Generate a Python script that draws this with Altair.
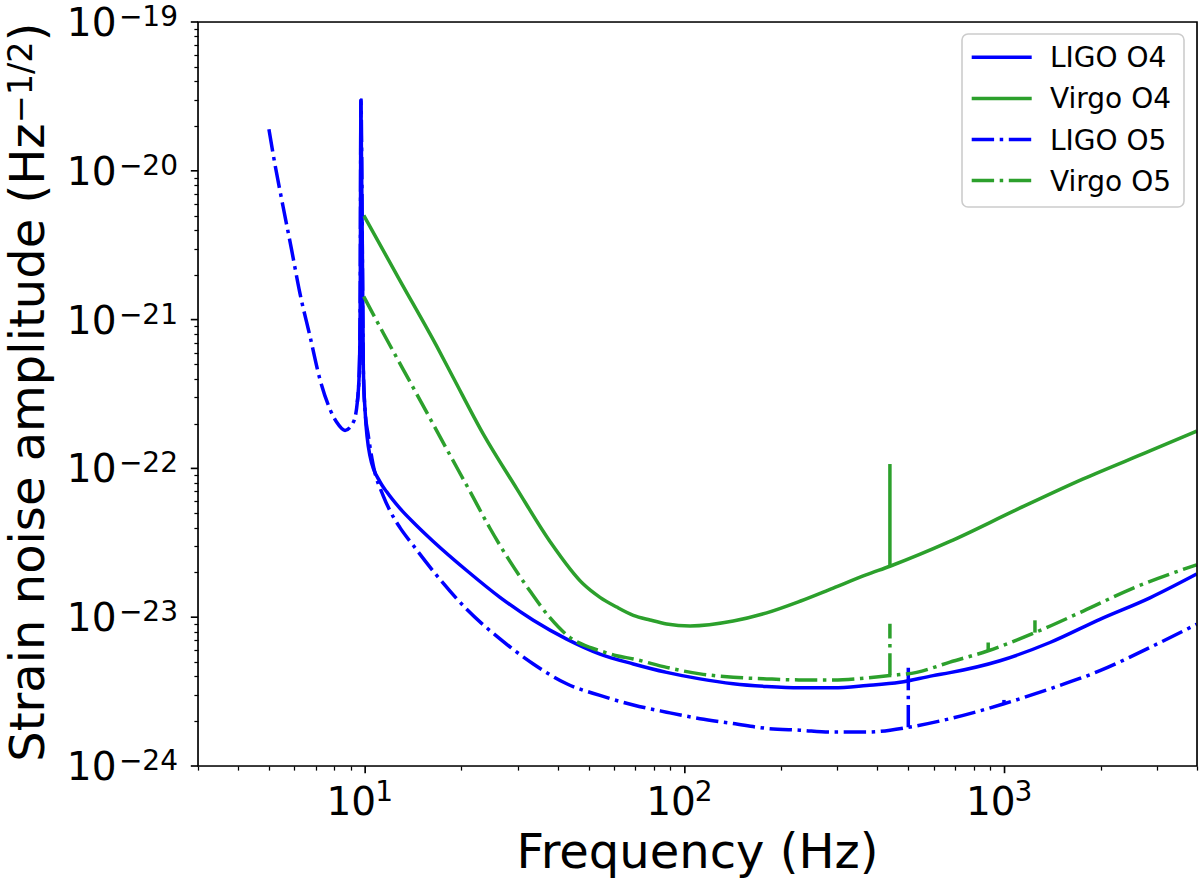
import altair as alt
import pandas as pd

# Detector noise curves: frequency (Hz) and strain noise amplitude (Hz^-1/2)
ligo_o4_freq = [9.45, 9.59, 9.65, 9.70, 9.87, 10.0, 10.35, 11.13, 11.68, 12.85,
                14.5, 16.34, 20.78, 26.41, 33.57, 42.7, 54.27, 69.0, 87.7, 111.5,
                141.7, 180.3, 229.2, 291.2, 370.5, 470.9, 598, 675, 968, 1387,
                1988, 2850, 3990]
ligo_o4_asd = [2.78e-22, 4.63e-22, 1.29e-21, 2.98e-20, 4.63e-22, 2.4e-22, 1.22e-22, 8.12e-23, 6.96e-23, 5.38e-23,
               4.12e-23, 3.23e-23, 2.06e-23, 1.36e-23, 9.53e-24, 7.12e-24, 5.65e-24, 4.85e-24, 4.26e-24, 3.85e-24,
               3.57e-24, 3.42e-24, 3.35e-24, 3.35e-24, 3.47e-24, 3.65e-24, 4.05e-24, 4.24e-24, 5.10e-24, 6.76e-24,
               9.68e-24, 1.35e-23, 1.95e-23]

virgo_o4_freq = [9.9, 12.85, 16.74, 18.87, 23.42, 29.79, 37.85, 48.12, 54.27, 61.2,
                 69.0, 77.8, 87.7, 103.8, 141.7, 180.3, 229.2, 291.2, 370.5, 438,
                 675, 1091, 1763, 2850, 3990]
virgo_o4_asd = [5.01e-21, 1.83e-21, 6.63e-22, 4.07e-22, 1.70e-22, 7.32e-23, 3.23e-23, 1.67e-23, 1.36e-23, 1.17e-23,
                1.03e-23, 9.58e-24, 9.01e-24, 8.74e-24, 9.43e-24, 1.07e-23, 1.28e-23, 1.57e-23, 1.93e-23, 2.20e-23,
                3.23e-23, 5.28e-23, 8.50e-23, 1.31e-22, 1.78e-22]

ligo_o5_freq = [5.0, 5.22, 5.54, 5.89, 6.25, 6.72, 7.22, 7.76, 8.15, 8.65,
                9.18, 9.45, 9.59, 9.65, 9.70, 9.87, 10.0, 10.23, 10.6, 11.39,
                11.96, 12.85, 14.15, 16.74, 20.78, 26.41, 33.57, 42.7, 54.27, 69.0,
                87.7, 111.5, 141.7, 180.3, 229.2, 291.2, 370.5, 500, 675, 996,
                1387, 1988, 2850, 3990]
ligo_o5_asd = [1.90e-20, 1.11e-20, 5.71e-21, 2.93e-21, 1.505e-21, 7.74e-22, 3.97e-22, 2.50e-22, 2.04e-22, 1.80e-22,
               2.04e-22, 2.78e-22, 4.63e-22, 1.29e-21, 2.98e-20, 4.63e-22, 2.4e-22, 1.66e-22, 1.05e-22, 6.54e-23,
               5.19e-23, 4.00e-23, 3.03e-23, 1.91e-23, 1.13e-23, 7.15e-24, 4.85e-24, 3.57e-24, 2.98e-24, 2.57e-24,
               2.30e-24, 2.08e-24, 1.93e-24, 1.79e-24, 1.74e-24, 1.69e-24, 1.69e-24, 1.82e-24, 2.08e-24, 2.62e-24,
               3.30e-24, 4.37e-24, 6.26e-24, 8.97e-24]

virgo_o5_freq = [9.9, 11.39, 14.5, 18.42, 21.28, 24.57, 28.38, 32.78, 37.85, 43.74,
                 50.5, 54.27, 61.2, 69.0, 87.7, 111.5, 141.7, 180.3, 229.2, 291.2,
                 370.5, 438, 531, 675, 889, 1245, 1763, 2527, 3990]
virgo_o5_asd = [1.43e-21, 8.13e-22, 3.16e-22, 1.23e-22, 7.00e-23, 3.96e-23, 2.37e-23, 1.50e-23, 9.92e-24, 7.30e-24,
                6.26e-24, 5.95e-24, 5.51e-24, 5.24e-24, 4.60e-24, 4.16e-24, 3.95e-24, 3.85e-24, 3.79e-24, 3.79e-24,
                3.91e-24, 4.05e-24, 4.26e-24, 4.99e-24, 5.95e-24, 7.88e-24, 1.10e-23, 1.57e-23, 2.25e-23]

# Narrow spectral lines: frequency, level at the foot, level at the tip
ligo_o5_line_freq = [500, 996]
ligo_o5_line_base = [1.82e-24, 2.62e-24]
ligo_o5_line_top = [4.77e-24, 2.78e-24]
virgo_o4_line_freq = [438]
virgo_o4_line_base = [2.20e-23]
virgo_o4_line_top = [1.07e-22]
virgo_o5_line_freq = [438, 889, 1245]
virgo_o5_line_base = [4.05e-24, 5.95e-24, 7.88e-24]
virgo_o5_line_top = [9.05e-24, 6.76e-24, 9.53e-24]

series_names = ["LIGO O4", "Virgo O4", "LIGO O5", "Virgo O5"]
series_freqs = [ligo_o4_freq, virgo_o4_freq, ligo_o5_freq, virgo_o5_freq]
series_asds = [ligo_o4_asd, virgo_o4_asd, ligo_o5_asd, virgo_o5_asd]
series_lines = [([], [], []),
                (virgo_o4_line_freq, virgo_o4_line_base, virgo_o4_line_top),
                (ligo_o5_line_freq, ligo_o5_line_base, ligo_o5_line_top),
                (virgo_o5_line_freq, virgo_o5_line_base, virgo_o5_line_top)]
series_colors = ["#0000ff", "#2ca02c", "#0000ff", "#2ca02c"]
series_dashdot = [False, False, True, True]

# Decade tick labels (10^n)
x_major_exps = [1, 2, 3]
y_major_exps = [-19, -20, -21, -22, -23, -24]

x_title = "Frequency (Hz)"
y_title_main = "Strain noise amplitude (Hz"
y_title_sup = "\u22121/2"
y_title_close = ")"

# ---- layout / style ----
LEFT, TOP = 198, 22
W, H = 999, 744
FONT = "DejaVu Sans"
LW = 3.5
DASHDOT = [22.4, 5.6, 3.5, 5.6]
TICK_FS, SUP_FS, TITLE_FS, LEG_FS = 39, 28, 48, 28


def px(xa):
    return xa - LEFT


def py(ya):
    return ya - TOP


x_minor = [m * 10 ** e for e in range(0, 4) for m in range(2, 10) if 3 <= m * 10 ** e <= 4000]
y_minor = [m * 10.0 ** e for e in range(-24, -19) for m in range(2, 10)]

x_scale = alt.Scale(type="log", domain=[3, 4000], nice=False)
y_scale = alt.Scale(type="log", domain=[1e-24, 1e-19], nice=False)
x_axis = alt.Axis(values=x_minor, labels=False, title=None, grid=False, domain=False,
                  tickSize=4.1, tickWidth=1.25, tickColor="black")
y_axis = alt.Axis(values=y_minor, labels=False, title=None, grid=False, domain=False,
                  tickSize=4.1, tickWidth=1.25, tickColor="black")


def X(field="f"):
    return alt.X(f"{field}:Q", scale=x_scale, axis=x_axis)


def Y(field="h"):
    return alt.Y(f"{field}:Q", scale=y_scale, axis=y_axis)


def Y2(field):
    return alt.Y2(f"{field}:Q")


one_row = pd.DataFrame({"k": [0]})
layers = []

# noise curves and their narrow lines
for name, fr, a, lines, col, dd in zip(series_names, series_freqs, series_asds, series_lines,
                                       series_colors, series_dashdot):
    df = pd.DataFrame({"f": fr, "h": a, "series": name})
    kw = dict(color=col, strokeWidth=LW, clip=True, interpolate="monotone")
    if dd:
        kw["strokeDash"] = DASHDOT
    layers.append(alt.Chart(df).mark_line(**kw).encode(x=X(), y=Y()))
    if lines[0]:
        ldf = pd.DataFrame({"f": lines[0], "h": lines[1], "h2": lines[2]})
        rkw = dict(color=col, strokeWidth=LW, clip=True)
        if dd:
            rkw["strokeDash"] = DASHDOT
        layers.append(alt.Chart(ldf).mark_rule(**rkw).encode(x=X(), y=Y(), y2=Y2("h2")))

# plot frame
layers.append(
    alt.Chart(one_row).mark_rect(fill="transparent", stroke="black", strokeWidth=1.65)
    .encode(x=alt.value(0), x2=alt.value(W), y=alt.value(0), y2=alt.value(H))
)

# legend box
layers.append(
    alt.Chart(one_row).mark_rect(cornerRadius=6, fill="white", fillOpacity=0.8,
                                 stroke="#cccccc", strokeWidth=1.6)
    .encode(x=alt.value(px(962)), x2=alt.value(px(1184)), y=alt.value(py(34)), y2=alt.value(py(207)))
)
for i, (name, col, dd) in enumerate(zip(series_names, series_colors, series_dashdot)):
    yy = py(57.3) + i * 41.1
    entry = pd.DataFrame({"name": [name]})
    rkw = dict(color=col, strokeWidth=LW)
    if dd:
        rkw["strokeDash"] = DASHDOT
    layers.append(alt.Chart(entry).mark_rule(**rkw).encode(
        x=alt.value(px(971.7)), x2=alt.value(px(1031.7)), y=alt.value(yy)))
    layers.append(alt.Chart(entry).mark_text(align="left", baseline="alphabetic", font=FONT,
                                             fontSize=LEG_FS, color="black")
                  .encode(x=alt.value(px(1050)), y=alt.value(yy + 10), text="name:N"))

# major ticks
x_major = pd.DataFrame({"f": [10 ** e for e in x_major_exps],
                        "exp": [str(e) for e in x_major_exps]})
y_major = pd.DataFrame({"h": [10.0 ** e for e in y_major_exps],
                        "exp": ["\u2212" + str(-e) for e in y_major_exps]})
layers.append(alt.Chart(x_major).mark_rule(color="black", strokeWidth=1.65)
              .encode(x=X(), y=alt.value(H), y2=alt.value(H + 7.2)))
layers.append(alt.Chart(y_major).mark_rule(color="black", strokeWidth=1.65)
              .encode(y=Y(), x=alt.value(0), x2=alt.value(-7.2)))

# tick labels: "10" with a superscript exponent
layers.append(alt.Chart(x_major).mark_text(align="right", baseline="alphabetic", font=FONT,
                                           fontSize=TICK_FS, dx=11, color="black")
              .encode(x=X(), y=alt.value(H + 49), text=alt.value("10")))
layers.append(alt.Chart(x_major).mark_text(align="left", baseline="alphabetic", font=FONT,
                                           fontSize=SUP_FS, dx=10, color="black")
              .encode(x=X(), y=alt.value(H + 35), text="exp:N"))
layers.append(alt.Chart(y_major).mark_text(align="right", baseline="alphabetic", font=FONT,
                                           fontSize=TICK_FS, dy=14, color="black")
              .encode(y=Y(), x=alt.value(-81.5), text=alt.value("10")))
layers.append(alt.Chart(y_major).mark_text(align="right", baseline="alphabetic", font=FONT,
                                           fontSize=SUP_FS, dy=4, color="black")
              .encode(y=Y(), x=alt.value(-20), text="exp:N"))

# axis titles
layers.append(alt.Chart(one_row).mark_text(align="center", baseline="alphabetic", font=FONT,
                                           fontSize=TITLE_FS, color="black")
              .encode(x=alt.value(W / 2), y=alt.value(py(868)), text=alt.value(x_title)))
SUP_W = 2.447 * TITLE_FS * 0.7
YJ = py(392) - 268.5
layers.append(alt.Chart(one_row).mark_text(angle=270, align="right", baseline="alphabetic", font=FONT,
                                           fontSize=TITLE_FS, color="black")
              .encode(x=alt.value(px(43.5)), y=alt.value(YJ), text=alt.value(y_title_main)))
layers.append(alt.Chart(one_row).mark_text(angle=270, align="left", baseline="alphabetic", font=FONT,
                                           fontSize=TITLE_FS * 0.7, color="black")
              .encode(x=alt.value(px(31.5)), y=alt.value(YJ), text=alt.value(y_title_sup)))
layers.append(alt.Chart(one_row).mark_text(angle=270, align="left", baseline="alphabetic", font=FONT,
                                           fontSize=TITLE_FS, color="black")
              .encode(x=alt.value(px(43.5)), y=alt.value(YJ - SUP_W), text=alt.value(y_title_close)))

chart = (
    alt.layer(*layers)
    .properties(width=W, height=H, autosize=alt.AutoSizeParams(type="none"),
                padding={"left": LEFT, "top": TOP, "right": 1200 - LEFT - W, "bottom": 883 - TOP - H})
    .configure_view(stroke="transparent")
    .configure(background="white")
)

chart.save("out.html", embed_options={"renderer": "svg", "actions": False})
